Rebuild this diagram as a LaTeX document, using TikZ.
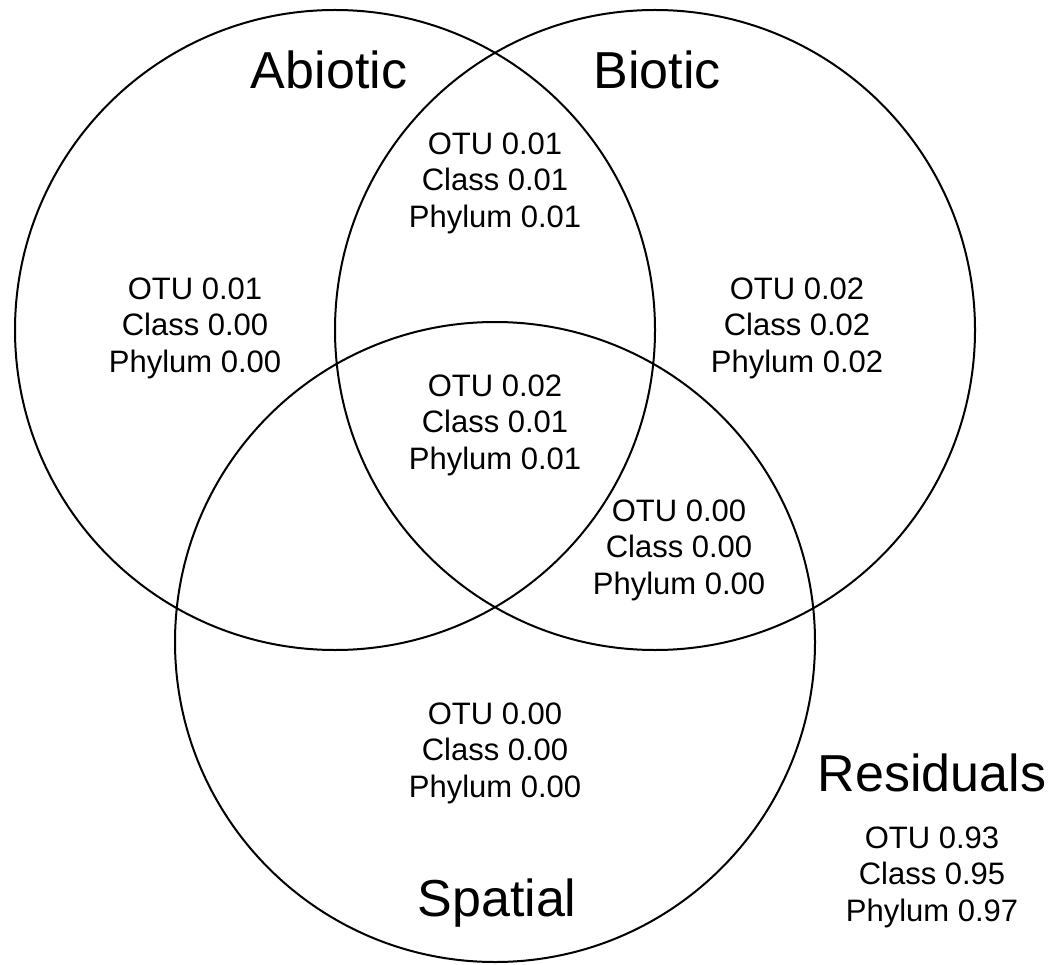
\documentclass[tikz,border=0pt]{standalone}
\usepackage{fontspec}
\setmainfont{Liberation Sans}
\begin{document}
\begin{tikzpicture}[x=1pt,y=-1pt,
  setcircle/.style={draw=black,line width=2pt,circle,minimum size=640pt,inner sep=0pt},
  biglabel/.style={font=\fontsize{52}{60}\selectfont,inner sep=0pt},
  vals/.style={font=\fontsize{31}{36.5}\selectfont,align=center,inner sep=0pt}]
\useasboundingbox (0,0) rectangle (1051,965);
\node[setcircle] (abiotic) at (335,330) {};
\node[setcircle] (biotic) at (655,330) {};
\node[setcircle] (spatial) at (495,642) {};
\node[biglabel] (labA) at (329,70) {Abiotic};
\node[biglabel] (labB) at (657,70) {Biotic};
\node[biglabel] (labC) at (497,903) {Spatial};
\node[biglabel] (labR) at (932,773) {Residuals};
\node[vals] (vAB) at (495,183) {OTU 0.01\\Class 0.01\\Phylum 0.01};
\node[vals] (vA) at (195,328) {OTU 0.01\\Class 0.00\\Phylum 0.00};
\node[vals] (vB) at (797,328) {OTU 0.02\\Class 0.02\\Phylum 0.02};
\node[vals] (vABC) at (495,425) {OTU 0.02\\Class 0.01\\Phylum 0.01};
\node[vals] (vBC) at (679,550) {OTU 0.00\\Class 0.00\\Phylum 0.00};
\node[vals] (vC) at (495,753) {OTU 0.00\\Class 0.00\\Phylum 0.00};
\node[vals] (vR) at (932,877) {OTU 0.93\\Class 0.95\\Phylum 0.97};
\end{tikzpicture}
\end{document}
